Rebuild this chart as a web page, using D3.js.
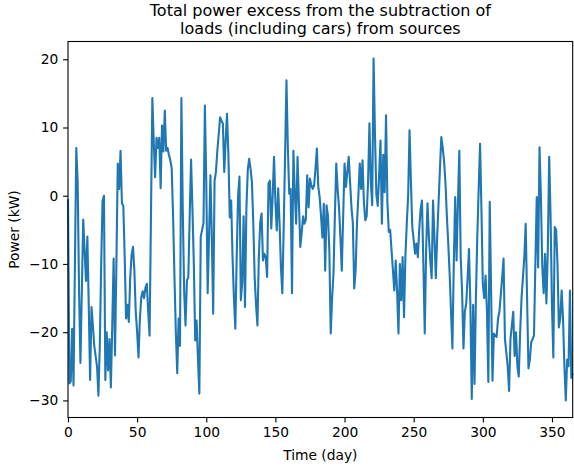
<!DOCTYPE html>
<html>
<head>
<meta charset="utf-8">
<script src="https://cdn.jsdelivr.net/npm/d3@7"></script>
<style>
  body { margin: 0; background: #fff; }
  svg { display: block; }
  text { font-family: "DejaVu Sans", sans-serif; fill: #000; }
</style>
</head>
<body>
<svg id="chart" width="574" height="467"></svg>
<script>
// Daily power excess (kW) = sources - loads (including cars), day 0..365
const excessKW = [
  -0.5, -27.5, -27.2, -19.5, -27.8, -10, 7.0, 2, -14, -24.5,
  -14, -3.5, -8, -12.5, -6, -16, -27, -16.3, -19, -22,
  -23.5, -25, -29.3, -22, -10, -0.7, 0, -27, -20, -25.6,
  -21, -28.1, -19, -9.2, -23.4, -10, 4.7, 1, 6.6, -1.1,
  -1.5, -9, -18, -16, -18.5, -12, -8.7, -7.5, -11, -17,
  -20, -23.7, -18, -14.9, -14, -15, -13.5, -12.9, -17, -20.5,
  -3, 14.3, 8, 2.7, 8.5, 7, 8.5, 1.1, 10.3, 6.5,
  12.5, 6.6, 7, 6, 5.2, 4, -3, -12, -20, -26,
  -18, -22, 14.3, -2, -14, -19, -12.4, -12, -3, 5.3,
  -2, -10, -21.2, -18.3, -24, -29, -6, -5, -4, 13.2,
  2, -14.3, -6, 3, -6, -17.3, 2.2, 3.5, 6.6, 9,
  11.5, 11, 10.6, 3.5, 8, 12, 6, -3.2, -0.7, -9,
  -15, -19.5, -9, 0, 2.8, -15.3, -12.7, -3, -16.3, -2,
  3.7, 5.4, 4, 2, -4, -12, -16, -19, -9, -4,
  -2.6, -9.5, -8.5, -9, -11.9, 1.8, 2.2, -4.8, 0, 5.7,
  -1, -5.1, 1.1, -4, -10.5, -14.3, -4.6, 6, 16.9, 7,
  0.3, 1, -14.3, 6.6, 0.5, -4.1, 5.7, -1, -7.5, -5.5,
  -3, -4.1, -3.5, 3, -1.7, 2.5, 1.5, 1, 1.5, 4,
  6.9, 1.3, -0.2, -3, -6.1, -1.2, -11, -1.4, -3, -8,
  -20.2, -15, -11.4, -3, 4.7, 1, -1.7, -6, -11, -3,
  4.7, 1.3, 3.5, 5.7, 2, -1.7, -4, -13.6, -11, -4,
  0, 4.7, 1, 5.2, -1, -3.6, -3, 2, 10.6, 2,
  -1.4, 20.1, 9, 0.2, -1.5, 3, 8.1, -4.1, 6, 0.5,
  11.8, -1, -5.3, -5, -8, -11, -13.9, -9.5, -14, -20.2,
  -10, -15.3, -9, -17.8, -9, -4.1, 0, 9.6, 2, -4.6,
  -6.5, -8.5, -7, -9, -5, -2, -0.7, -10, -20.2, -8,
  -1.1, -6, -9.5, -12.1, -0.7, -6, -12.1, -6, -1, 4,
  8.6, 7, 5, 1.8, -3, -7, -11.4, -17, -22.4, -10,
  -0.2, -9.5, -1, 6.6, -9, -14, -22.4, -17, -15.8, -12,
  -7.8, -16, -29.8, -16, -27.6, -15, -6, 1, 7.6, -2,
  -13, -15, -11.7, -17, -27.3, -0.9, -14, -27.1, -20.2, -20.5,
  -20.7, -18, -17, -14.5, -12, -9.2, -21, -23, -25, -28.6,
  -21, -19, -17, -23.5, -20, -25, -26.5, -20, -15, -12,
  -9, -4.1, -15, -25.3, -24, -21.5, -21, -20.5, -10, -0.2,
  -10.5, 7.1, 0, -10.5, -14.3, -8.5, -15.8, -8, 5.7, -3,
  -16, -23.7, -4.6, -5, -10, -19.3, -18, -13.9, -18, -25,
  -30, -24, -25, -13.9, -26.7, -26
];
const days = d3.range(excessKW.length);

const dayTicks = [0, 50, 100, 150, 200, 250, 300, 350];
const powerTicks = [-30, -20, -10, 0, 10, 20];

const titleLines = ["Total power excess from the subtraction of", "loads (including cars) from sources"];
const xLabel = "Time (day)";
const yLabel = "Power (kW)";

const plot = { left: 68, right: 572.7, top: 41.5, bottom: 417.5 };

const svg = d3.select("#chart");

// x spans the full year; y gets a 5% margin around the data range
const x = d3.scaleLinear().domain([0, d3.max(days)]).range([plot.left, plot.right]);
const [lo, hi] = d3.extent(excessKW);
const pad = (hi - lo) * 0.05;
const y = d3.scaleLinear().domain([lo - pad, hi + pad]).range([plot.bottom, plot.top]);

// series line
const line = d3.line().x((d, i) => x(days[i])).y(d => y(d));
svg.append("path")
  .datum(excessKW)
  .attr("d", line)
  .attr("fill", "none")
  .attr("stroke", "#1f77b4")
  .attr("stroke-width", 2.1)
  .attr("stroke-linejoin", "round");

// axes
const xAxis = svg.append("g")
  .attr("transform", `translate(0,${plot.bottom})`)
  .call(d3.axisBottom(x).tickValues(dayTicks).tickSizeOuter(0).tickSize(4.9).tickPadding(4.9));
const yAxis = svg.append("g")
  .attr("transform", `translate(${plot.left},0)`)
  .call(d3.axisLeft(y).tickValues(powerTicks).tickSizeOuter(0).tickSize(4.9).tickPadding(4.9));

[xAxis, yAxis].forEach(g => {
  g.select(".domain").remove();
  g.selectAll(".tick line").attr("stroke", "#000").attr("stroke-width", 1.1);
  g.selectAll(".tick text")
    .attr("font-family", "DejaVu Sans")
    .attr("font-size", 13.8)
    .attr("fill", "#000");
});

// frame
svg.append("rect")
  .attr("x", plot.left).attr("y", plot.top)
  .attr("width", plot.right - plot.left).attr("height", plot.bottom - plot.top)
  .attr("fill", "none").attr("stroke", "#000").attr("stroke-width", 1.1);

// two-line title
const cx = (plot.left + plot.right) / 2;
svg.selectAll("text.title")
  .data(titleLines)
  .join("text")
  .attr("class", "title")
  .attr("x", cx)
  .attr("y", (d, i) => 16 + i * 17.5)
  .attr("text-anchor", "middle")
  .attr("font-size", 16)
  .text(d => d);

// axis labels
svg.append("text")
  .attr("x", cx).attr("y", 460)
  .attr("text-anchor", "middle")
  .attr("font-size", 13.8)
  .text(xLabel);

svg.append("text")
  .attr("transform", `translate(19,${(plot.top + plot.bottom) / 2}) rotate(-90)`)
  .attr("text-anchor", "middle")
  .attr("font-size", 13.8)
  .text(yLabel);
</script>
</body>
</html>
